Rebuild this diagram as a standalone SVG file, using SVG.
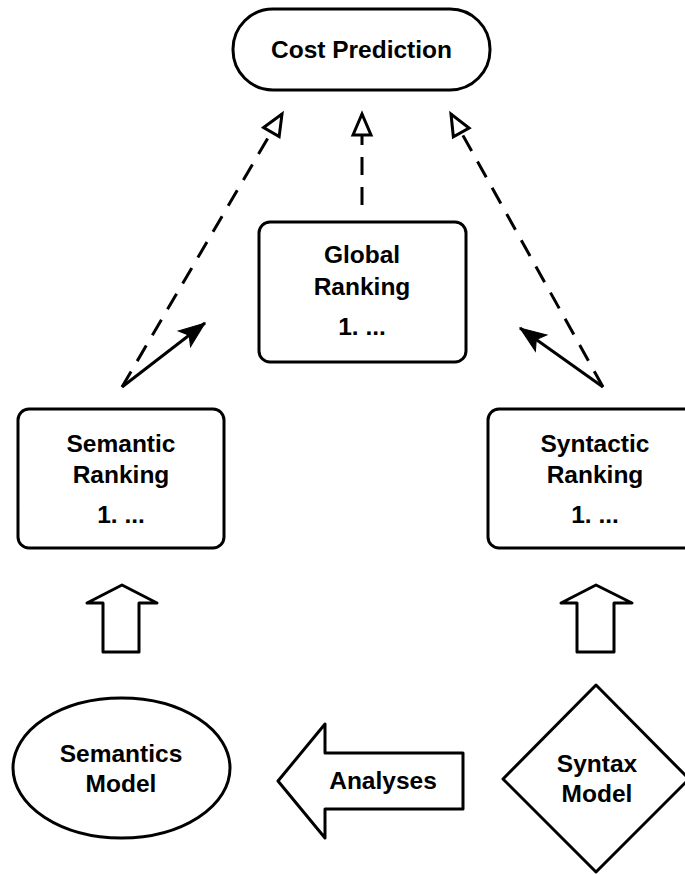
<svg xmlns="http://www.w3.org/2000/svg" width="685" height="874" viewBox="0 0 685 874">
<style>
  .shape { fill: #ffffff; stroke: #000000; stroke-width: 3; stroke-linejoin: round; }
  .lbl { font-family: "Liberation Sans", Arial, sans-serif; font-weight: bold; font-size: 24.5px; fill: #000000; text-anchor: middle; }
  .dash { fill: none; stroke: #000000; stroke-width: 3; stroke-dasharray: 18 12; }
  .solid { fill: none; stroke: #000000; stroke-width: 3; }
</style>
<defs>
  <marker id="open" markerUnits="userSpaceOnUse" markerWidth="28" markerHeight="24" refX="24" refY="12" orient="auto" viewBox="0 0 28 24">
    <path d="M3,3 L24,12 L3,21 Z" fill="#ffffff" stroke="#000000" stroke-width="3" stroke-linejoin="miter"/>
  </marker>
  <marker id="filled" markerUnits="userSpaceOnUse" markerWidth="30" markerHeight="24" refX="27" refY="12" orient="auto" viewBox="0 0 30 24">
    <path d="M1,2 L27,12 L1,22 L7,12 Z" fill="#000000" stroke="#000000" stroke-width="1"/>
  </marker>
</defs>

<g id="connectors">
  <line class="dash" x1="122" y1="387" x2="282" y2="114" marker-end="url(#open)"/>
  <line class="dash" x1="362" y1="205" x2="362" y2="114" marker-end="url(#open)"/>
  <line class="dash" x1="603" y1="387" x2="451" y2="114" marker-end="url(#open)"/>
  <line class="solid" x1="122" y1="387" x2="205" y2="323" marker-end="url(#filled)"/>
  <line class="solid" x1="603" y1="387" x2="520" y2="328" marker-end="url(#filled)"/>
  <g id="up-arrow-left">
    <path class="shape" d="M122,585 L157,603 L139,603 L139,652 L103,652 L103,603 L87,603 Z"/>
  </g>
  <g id="up-arrow-right">
    <path class="shape" d="M596,585 L632,603 L614,603 L614,652 L577,652 L577,603 L561,603 Z"/>
  </g>
</g>

<g id="cost-prediction">
  <rect class="shape" x="233" y="9" width="257" height="81" rx="40" ry="40"/>
  <text class="lbl" x="361.5" y="58">Cost Prediction</text>
</g>

<g id="global-ranking">
  <rect class="shape" x="259" y="222" width="207" height="140" rx="11" ry="11"/>
  <text class="lbl" x="362" y="263">Global</text>
  <text class="lbl" x="362" y="295">Ranking</text>
  <text class="lbl" x="362" y="335">1. ...</text>
</g>

<g id="semantic-ranking">
  <rect class="shape" x="18" y="409" width="206" height="139" rx="11" ry="11"/>
  <text class="lbl" x="121" y="452">Semantic</text>
  <text class="lbl" x="121" y="483">Ranking</text>
  <text class="lbl" x="121" y="523">1. ...</text>
</g>

<g id="syntactic-ranking">
  <rect class="shape" x="488" y="409" width="214" height="139" rx="11" ry="11"/>
  <text class="lbl" x="595" y="452">Syntactic</text>
  <text class="lbl" x="595" y="483">Ranking</text>
  <text class="lbl" x="595" y="523">1. ...</text>
</g>

<g id="semantics-model">
  <ellipse class="shape" cx="121.5" cy="768" rx="108.5" ry="70"/>
  <text class="lbl" x="121" y="762">Semantics</text>
  <text class="lbl" x="121" y="792">Model</text>
</g>

<g id="analyses">
  <path class="shape" d="M278,781 L325,724 L325,753 L463,753 L463,809 L325,809 L325,838 Z"/>
  <text class="lbl" x="383" y="789">Analyses</text>
</g>

<g id="syntax-model">
  <path class="shape" d="M596,685 L689,779 L596,872 L503,779 Z"/>
  <text class="lbl" x="597" y="772">Syntax</text>
  <text class="lbl" x="597" y="802">Model</text>
</g>
</svg>
